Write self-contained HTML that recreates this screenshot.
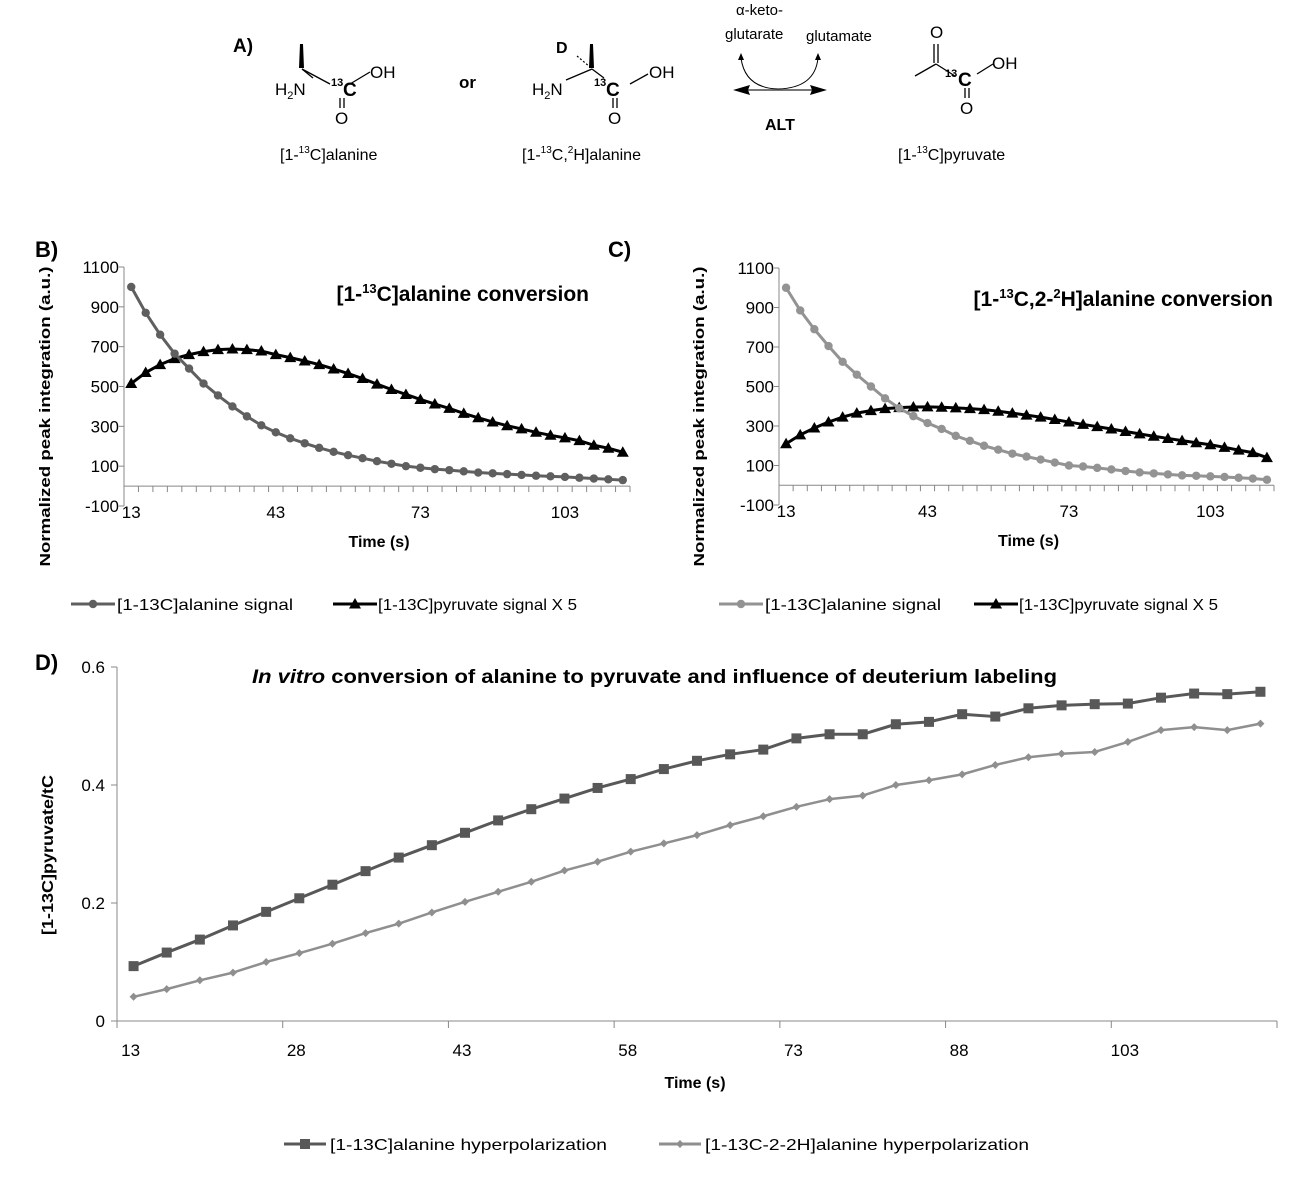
<!DOCTYPE html>
<html><head><meta charset="utf-8">
<style>
html,body{margin:0;padding:0;background:#fff;}
body{width:1305px;height:1180px;overflow:hidden;position:relative;font-family:"Liberation Sans",sans-serif;}
svg{position:absolute;left:0;top:0;}
</style></head>
<body>
<svg id="fig" width="1305" height="1180" viewBox="0 0 1305 1180">
<g font-family="Liberation Sans, sans-serif" fill="#000">
  <text x="233" y="52" font-size="19" font-weight="bold">A)</text>
  <g>
    <polygon points="300,44 303,44 304,68 299,68" fill="#000"/>
    <line x1="313" y1="78" x2="302" y2="69" stroke="#000" stroke-width="1.3"/>
    <line x1="302" y1="69" x2="330" y2="84" stroke="#000" stroke-width="1.3"/>
    <line x1="350" y1="84" x2="370" y2="72" stroke="#000" stroke-width="1.3"/>
    <line x1="340" y1="98" x2="340" y2="108" stroke="#000" stroke-width="1.3"/>
    <line x1="344" y1="98" x2="344" y2="108" stroke="#000" stroke-width="1.3"/>
    <text x="275" y="95" font-size="17">H<tspan font-size="11" dy="4">2</tspan><tspan dy="-4">N</tspan></text>
    <text x="331" y="86" font-size="11" font-weight="bold">13</text>
    <text x="343" y="96" font-size="19" font-weight="bold">C</text>
    <text x="370" y="78" font-size="17">OH</text>
    <text x="335" y="124" font-size="17">O</text>
    <text x="280" y="160" font-size="16">[1-<tspan font-size="10" dy="-7">13</tspan><tspan dy="7">C]alanine</tspan></text>
  </g>
  <text x="459" y="88" font-size="17" font-weight="bold">or</text>
  <g>
    <polygon points="590,44 593,44 594,68 589,68" fill="#000"/>
    <line x1="566" y1="80" x2="592" y2="69" stroke="#000" stroke-width="1.3"/>
    <line x1="592" y1="69" x2="604" y2="78" stroke="#000" stroke-width="1.3"/>
    <line x1="630" y1="84" x2="648" y2="74" stroke="#000" stroke-width="1.3"/>
    <line x1="613" y1="98" x2="613" y2="108" stroke="#000" stroke-width="1.3"/>
    <line x1="617" y1="98" x2="617" y2="108" stroke="#000" stroke-width="1.3"/>
    <line x1="577" y1="56" x2="590" y2="67" stroke="#000" stroke-width="1.2" stroke-dasharray="2,2"/>
    <text x="556" y="53" font-size="16" font-weight="bold">D</text>
    <text x="532" y="95" font-size="17">H<tspan font-size="11" dy="4">2</tspan><tspan dy="-4">N</tspan></text>
    <text x="594" y="86" font-size="11" font-weight="bold">13</text>
    <text x="606" y="96" font-size="19" font-weight="bold">C</text>
    <text x="649" y="78" font-size="17">OH</text>
    <text x="608" y="124" font-size="17">O</text>
    <text x="522" y="160" font-size="16">[1-<tspan font-size="10" dy="-7">13</tspan><tspan dy="7">C,</tspan><tspan font-size="10" dy="-7">2</tspan><tspan dy="7">H]alanine</tspan></text>
  </g>
  <g>
    <line x1="740" y1="90" x2="820" y2="90" stroke="#777" stroke-width="2"/>
    <polygon points="733,90 750,85 748,90 750,95" fill="#000"/>
    <polygon points="827,90 810,85 812,90 810,95" fill="#000"/>
    <path d="M741,58 Q745,88 778,89 Q815,88 818,58" fill="none" stroke="#000" stroke-width="1"/>
    <polygon points="741,53 738,60 744,60" fill="#000"/>
    <polygon points="818,53 815,60 821,60" fill="#000"/>
    <text x="736" y="15" font-size="15">α-keto-</text>
    <text x="725" y="39" font-size="15">glutarate</text>
    <text x="806" y="41" font-size="15">glutamate</text>
    <text x="765" y="130" font-size="16" font-weight="bold">ALT</text>
  </g>
  <g>
    <line x1="915" y1="76" x2="936" y2="64" stroke="#000" stroke-width="1.3"/>
    <line x1="934" y1="63" x2="934" y2="44" stroke="#000" stroke-width="1.3"/>
    <line x1="938" y1="63" x2="938" y2="44" stroke="#000" stroke-width="1.3"/>
    <line x1="936" y1="64" x2="955" y2="76" stroke="#000" stroke-width="1.3"/>
    <line x1="977" y1="74" x2="993" y2="64" stroke="#000" stroke-width="1.3"/>
    <line x1="965" y1="88" x2="965" y2="98" stroke="#000" stroke-width="1.3"/>
    <line x1="969" y1="88" x2="969" y2="98" stroke="#000" stroke-width="1.3"/>
    <text x="930" y="38" font-size="17">O</text>
    <text x="945" y="77" font-size="11" font-weight="bold">13</text>
    <text x="958" y="86" font-size="19" font-weight="bold">C</text>
    <text x="992" y="69" font-size="17">OH</text>
    <text x="960" y="114" font-size="17">O</text>
    <text x="898" y="160" font-size="16">[1-<tspan font-size="10" dy="-7">13</tspan><tspan dy="7">C]pyruvate</tspan></text>
  </g>
</g>
<g id="charts"></g>
</svg>
<script>
// ---------- Data ----------
const timesBC = [13,16,19,22,25,28,31,34,37,40,43,46,49,52,55,58,61,64,67,70,73,76,79,82,85,88,91,94,97,100,103,106,109,112,115];
const tickLabelsBC = ["-100","100","300","500","700","900","1100"];
const tickValsBC = [-100,100,300,500,700,900,1100];
const xLabelsBC = ["13","43","73","103"];
const alanineB = [1000,870,760,665,590,515,455,400,350,305,270,240,215,192,172,155,140,125,112,100,92,85,80,74,68,64,60,56,52,49,46,42,38,34,30];
const pyruvateB = [515,570,610,640,660,675,685,688,685,678,660,645,628,610,588,565,540,512,485,460,435,412,390,365,343,322,303,287,270,255,242,228,205,190,170];
const alanineC = [1000,885,790,705,625,560,500,440,390,350,315,285,250,225,200,180,160,145,130,115,100,95,88,80,72,65,60,55,50,48,45,42,38,34,28];
const pyruvateC = [210,255,290,320,345,365,378,388,393,396,397,395,392,388,383,375,365,355,345,333,320,308,297,285,272,260,248,237,226,215,205,192,178,165,140];
const timesD = timesBC;
const xLabelsD = ["13","28","43","58","73","88","103"];
const tickValsD = [0,0.2,0.4,0.6];
const tickLabelsD = ["0","0.2","0.4","0.6"];
const ratioNonDeut = [0.093,0.116,0.138,0.162,0.185,0.208,0.231,0.254,0.277,0.298,0.319,0.340,0.359,0.377,0.395,0.410,0.427,0.441,0.452,0.460,0.479,0.486,0.486,0.503,0.507,0.520,0.516,0.530,0.535,0.537,0.538,0.548,0.555,0.554,0.558];
const ratioDeut = [0.041,0.054,0.069,0.082,0.100,0.115,0.131,0.149,0.165,0.184,0.202,0.219,0.236,0.255,0.270,0.287,0.301,0.315,0.332,0.347,0.363,0.376,0.382,0.400,0.408,0.418,0.434,0.447,0.453,0.456,0.473,0.493,0.498,0.493,0.504];

const NS = "http://www.w3.org/2000/svg";
const root = document.getElementById('charts');
function mk(tag, attrs, parent, text){
  const e = document.createElementNS(NS, tag);
  for (const k in attrs) e.setAttribute(k, attrs[k]);
  if (text !== undefined) e.textContent = text;
  (parent || root).appendChild(e);
  return e;
}
const FONT = "Liberation Sans, sans-serif";

function marker(g, type, x, y, color){
  let m;
  if (type === 'circle') m = mk('circle', {cx:x, cy:y, r:4.2, fill:color}, g);
  else if (type === 'tri') m = mk('polygon', {points:`${x},${y-6} ${x+6},${y+4.5} ${x-6},${y+4.5}`, fill:color}, g);
  else if (type === 'square') m = mk('rect', {x:x-5, y:y-5, width:10, height:10, fill:color}, g);
  else m = mk('polygon', {points:`${x},${y-4} ${x+4},${y} ${x},${y+4} ${x-4},${y}`, fill:color}, g);
  return m;
}

function series(g, times, vals, xf, yf, color, width, mtype, name){
  const sg = mk('g', {}, g);
  
  
  const pts = vals.map((v,i)=>[xf(i), yf(v)]);
  const line = mk('polyline', {points: pts.map(p=>p.join(',')).join(' '), fill:'none', stroke:color, 'stroke-width':width, 'stroke-linejoin':'round'}, sg);
  
  
  pts.forEach((p,i)=>{
    const m = marker(sg, mtype, p[0], p[1], color);
    
    
  });
}

function panelBC(opts){
  const g = mk('g', {});
  
  
  const L = opts.left, R = opts.right, n = timesBC.length, cw = (R-L)/n;
  const yTop = opts.yTop, yBot = opts.yBot;
  const xf = i => L + cw*(i+0.5);
  const yf = v => yBot - (v - (-100)) / 1200 * (yBot - yTop);
  const y0 = yf(0);
  mk('line', {x1:L, y1:yTop, x2:L, y2:yBot, stroke:'#888', 'stroke-width':1}, g);
  tickValsBC.forEach((v,i)=>{
    mk('line', {x1:L-5, y1:yf(v), x2:L, y2:yf(v), stroke:'#888'}, g);
    const t = mk('text', {x:L-5, y:yf(v)+6, 'text-anchor':'end', 'font-size':17, 'font-family':FONT, fill:'#000'}, g, tickLabelsBC[i]);
    
    
  });
  mk('line', {x1:L, y1:y0, x2:R, y2:y0, stroke:'#888', 'stroke-width':1}, g);
  for (let i=0;i<=n;i++) mk('line', {x1:L+cw*i, y1:y0, x2:L+cw*i, y2:y0+6, stroke:'#888'}, g);
  xLabelsBC.forEach((lab,i)=>{
    const t = mk('text', {x:xf(i*10), y:yBot+12, 'text-anchor':'middle', 'font-size':17, 'font-family':FONT}, g, lab);
    
    
  });
  const xt = mk('text', {x:(L+R)/2+2, y:yBot+41, 'text-anchor':'middle', 'font-size':16, 'font-weight':'bold', 'font-family':FONT}, g, 'Time (s)');
  
  
  const yt = mk('text', {x:0, y:0, transform:`translate(${opts.ytx},${(yTop+yBot)/2+30}) rotate(-90)`, 'text-anchor':'middle', 'font-size':15, 'font-weight':'bold', 'font-family':FONT, textLength:300, lengthAdjust:'spacingAndGlyphs'}, g, 'Normalized peak integration (a.u.)');
  
  
  series(g, timesBC, opts.pyr, xf, yf, '#000', 3, 'tri', 'pyruvate-series');
  series(g, timesBC, opts.ala, xf, yf, opts.alaColor, 3, 'circle', 'alanine-series');
  const tt = mk('text', {x:opts.titleX, y:opts.titleY, 'text-anchor':opts.titleAnchor, 'font-size':21, 'font-weight':'bold', 'font-family':FONT}, g);
  
  
  tt.innerHTML = opts.title;
  const pl = mk('text', {x:opts.plX, y:257, 'font-size':22, 'font-weight':'bold', 'font-family':FONT}, g, opts.panel);
  
  
  const lg = mk('g', {}, g);
  
  
  const ly = 604;
  const e1 = mk('g', {}, lg);
  
  
  mk('line', {x1:opts.lx1, y1:ly, x2:opts.lx1+44, y2:ly, stroke:opts.alaColor, 'stroke-width':3}, e1);
  marker(e1, 'circle', opts.lx1+22, ly, opts.alaColor);
  mk('text', {x:opts.lx1+46, y:ly+6, 'font-size':16, 'font-family':FONT, textLength:176, lengthAdjust:'spacingAndGlyphs'}, e1, '[1-13C]alanine signal');
  const e2 = mk('g', {}, lg);
  
  
  mk('line', {x1:opts.lx2, y1:ly, x2:opts.lx2+44, y2:ly, stroke:'#000', 'stroke-width':3}, e2);
  marker(e2, 'tri', opts.lx2+22, ly, '#000');
  mk('text', {x:opts.lx2+45, y:ly+6, 'font-size':16, 'font-family':FONT, textLength:199, lengthAdjust:'spacingAndGlyphs'}, e2, '[1-13C]pyruvate signal X 5');
}

panelBC({name:'chart-b', left:124, right:630, yTop:267, yBot:506, ala:alanineB, pyr:pyruvateB, alaColor:'#5f5f5f',
  ytx:50, title:'<tspan>[1-</tspan><tspan font-size="13" dy="-8">13</tspan><tspan dy="8">C]alanine conversion</tspan>', titleX:589, titleY:301, titleAnchor:'end', panel:'B)', plX:35, lx1:71, lx2:333});
panelBC({name:'chart-c', left:779, right:1274, yTop:268, yBot:505, ala:alanineC, pyr:pyruvateC, alaColor:'#939393',
  ytx:704, title:'<tspan>[1-</tspan><tspan font-size="13" dy="-8">13</tspan><tspan dy="8">C,2-</tspan><tspan font-size="13" dy="-8">2</tspan><tspan dy="8">H]alanine conversion</tspan>', titleX:1273, titleY:306, titleAnchor:'end', panel:'C)', plX:608, lx1:719, lx2:974});

(function(){
  const g = mk('g', {});
  
  
  const L = 117, R = 1277, n = timesD.length, cw = (R-L)/n;
  const yTop = 667, yBot = 1021;
  const xf = i => L + cw*(i+0.5);
  const yf = v => yBot - v/0.6*(yBot-yTop);
  mk('line', {x1:L, y1:yTop, x2:L, y2:yBot, stroke:'#888'}, g);
  tickValsD.forEach((v,i)=>{
    mk('line', {x1:L-6, y1:yf(v), x2:L, y2:yf(v), stroke:'#888'}, g);
    const t = mk('text', {x:L-12, y:yf(v)+6, 'text-anchor':'end', 'font-size':17, 'font-family':FONT}, g, tickLabelsD[i]);
    
    
  });
  mk('line', {x1:L, y1:yBot, x2:R, y2:yBot, stroke:'#888'}, g);
  for (let i=0;i<=n;i+=5) mk('line', {x1:L+cw*i, y1:yBot, x2:L+cw*i, y2:yBot+7, stroke:'#888'}, g);
  mk('line', {x1:R, y1:yBot, x2:R, y2:yBot+7, stroke:'#888'}, g);
  xLabelsD.forEach((lab,i)=>{
    const t = mk('text', {x:xf(i*5)-3, y:yBot+35, 'text-anchor':'middle', 'font-size':17, 'font-family':FONT}, g, lab);
    
    
  });
  const xt = mk('text', {x:695, y:1088, 'text-anchor':'middle', 'font-size':16, 'font-weight':'bold', 'font-family':FONT}, g, 'Time (s)');
  
  
  const yt = mk('text', {x:0, y:0, transform:'translate(53,855) rotate(-90)', 'text-anchor':'middle', 'font-size':16, 'font-weight':'bold', 'font-family':FONT, textLength:160, lengthAdjust:'spacingAndGlyphs'}, g, '[1-13C]pyruvate/tC');
  
  
  series(g, timesD, ratioDeut, xf, yf, '#8f8f8f', 2.5, 'diamond', 'deuterated-series');
  series(g, timesD, ratioNonDeut, xf, yf, '#585858', 3, 'square', 'non-deuterated-series');
  const tt = mk('text', {x:252, y:683, 'font-size':19, 'font-weight':'bold', 'font-family':FONT, textLength:805, lengthAdjust:'spacingAndGlyphs'}, g);
  
  
  tt.innerHTML = '<tspan font-style="italic">In vitro</tspan> conversion of alanine to pyruvate and influence of deuterium labeling';
  const pl = mk('text', {x:35, y:670, 'font-size':22, 'font-weight':'bold', 'font-family':FONT}, g, 'D)');
  
  
  const lg = mk('g', {}, g);
  
  
  const ly = 1144;
  const e1 = mk('g', {}, lg);
  
  
  mk('line', {x1:284, y1:ly, x2:326, y2:ly, stroke:'#585858', 'stroke-width':3}, e1);
  marker(e1, 'square', 305, ly, '#585858');
  mk('text', {x:330, y:ly+6, 'font-size':16, 'font-family':FONT, textLength:277, lengthAdjust:'spacingAndGlyphs'}, e1, '[1-13C]alanine hyperpolarization');
  const e2 = mk('g', {}, lg);
  
  
  mk('line', {x1:659, y1:ly, x2:701, y2:ly, stroke:'#8f8f8f', 'stroke-width':3}, e2);
  marker(e2, 'diamond', 680, ly, '#8f8f8f');
  mk('text', {x:705, y:ly+6, 'font-size':16, 'font-family':FONT, textLength:324, lengthAdjust:'spacingAndGlyphs'}, e2, '[1-13C-2-2H]alanine hyperpolarization');
})();
</script>
</body></html>
